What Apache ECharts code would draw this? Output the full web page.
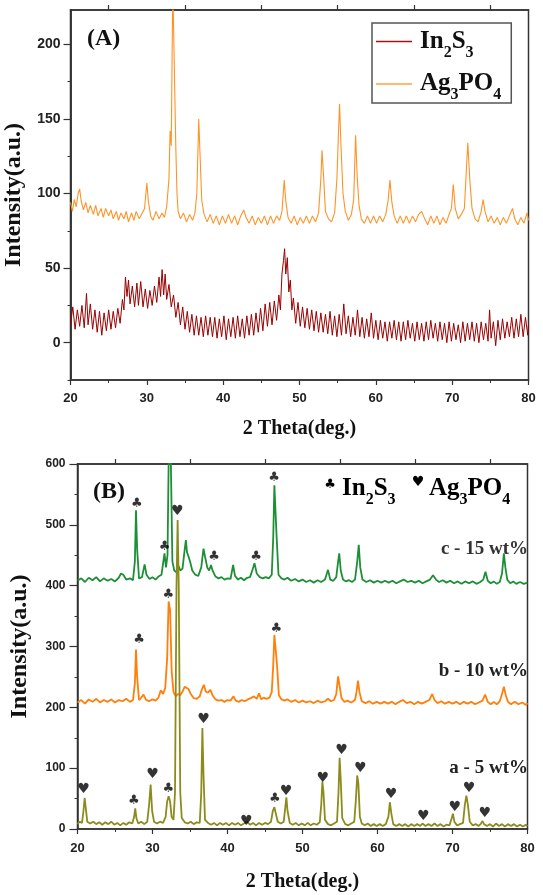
<!DOCTYPE html>
<html><head><meta charset="utf-8">
<script src="https://cdn.jsdelivr.net/npm/echarts@6/dist/echarts.min.js"></script>
<style>html,body{margin:0;padding:0;background:#fff}#c{width:543px;height:895px}</style>
</head><body><div id="c"></div><script>
// ---- tick labels / names ----
const xTicks = [20, 30, 40, 50, 60, 70, 80];
const topTicks = [25, 35, 45, 55, 65, 75];
const yTicksA = [0, 50, 100, 150, 200];
const yMinorA = [-25, 25, 75, 125, 175];
const yTicksB = [0, 100, 200, 300, 400, 500, 600];
const seriesNamesA = ['In2S3', 'Ag3PO4'];
const sampleLabelsB = ['c - 15 wt%', 'b - 10 wt%', 'a - 5 wt%'];

// ---- panel A data: flat [2theta, intensity, ...] ----
const in2s3 = [20.0,12,20.3,24,20.6,9,20.9,22,21.2,11,21.5,25,21.8,10,22.1,33,22.3,12,22.6,26,22.9,9,23.2,22,23.5,7,23.8,21,24.1,5,24.4,20,24.7,8,25.0,22,25.3,9,25.6,21,25.9,10,26.2,23,26.5,13,26.8,29,27.0,22,27.2,44,27.4,31,27.6,42,27.8,26,28.1,38,28.4,24,28.7,40,28.9,25,29.2,41,29.5,24,29.8,36,30.1,23,30.4,35,30.7,25,31.0,38,31.3,27,31.6,44,31.8,31,32.0,49,32.2,32,32.4,46,32.6,29,32.9,39,33.2,24,33.5,32,33.8,17,34.1,27,34.4,12,34.7,24,35.0,9,35.3,21,35.6,7,35.9,19,36.2,5,36.5,18,36.8,5,37.1,17,37.4,4,37.7,18,38.0,5,38.3,17,38.6,4,38.9,17,39.2,3,39.5,16,39.8,4,40.1,18,40.4,2,40.7,16,41.0,4,41.3,17,41.6,3,41.9,18,42.2,4,42.5,16,42.8,3,43.1,18,43.4,5,43.7,19,44.0,5,44.3,20,44.6,7,44.9,23,45.2,8,45.5,26,45.8,11,46.1,27,46.4,12,46.7,28,47.0,15,47.3,32,47.5,22,47.7,46,47.9,55,48.05,63,48.2,46,48.4,57,48.6,34,48.8,42,49.0,22,49.2,30,49.5,13,49.8,27,50.1,11,50.4,24,50.7,10,51.0,23,51.3,9,51.6,22,51.9,8,52.2,21,52.5,7,52.8,20,53.1,7,53.4,19,53.7,6,54.0,21,54.3,5,54.6,18,54.9,4,55.2,19,55.5,5,55.8,26,56.1,6,56.4,18,56.7,4,57.0,17,57.3,5,57.6,22,57.9,4,58.2,17,58.5,3,58.8,16,59.1,4,59.4,20,59.7,3,60.0,15,60.3,2,60.6,15,60.9,3,61.2,14,61.5,1,61.8,14,62.1,3,62.4,15,62.7,2,63.0,14,63.3,1,63.6,14,63.9,2,64.2,15,64.5,3,64.8,13,65.1,1,65.4,14,65.7,2,66.0,13,66.3,1,66.6,14,66.9,2,67.2,15,67.5,3,67.8,13,68.1,1,68.4,14,68.7,2,69.0,13,69.3,0,69.6,14,69.9,1,70.2,13,70.5,2,70.8,12,71.1,0,71.4,14,71.7,1,72.0,13,72.3,2,72.6,14,72.9,1,73.2,13,73.5,0,73.8,14,74.1,2,74.4,13,74.7,1,74.9,22,75.1,3,75.4,14,75.7,-2,76.0,15,76.3,2,76.6,16,76.9,3,77.2,14,77.5,4,77.8,17,78.1,3,78.4,16,78.7,4,79.0,19,79.3,4,79.6,17,79.9,5,80.0,12];
const ag3po4 = [20.0,94,20.25,88,20.5,96,20.75,91,21.0,100,21.2,103,21.4,95,21.7,89,22.0,94,22.3,87,22.6,92,23.0,86,23.3,92,23.6,85,24.0,90,24.3,84,24.6,90,25.0,85,25.3,89,25.6,83,26.0,88,26.3,82,26.6,87,27.0,83,27.3,88,27.6,81,28.0,87,28.3,82,28.6,88,29.0,83,29.4,87,29.7,90,30.0,107,30.2,95,30.5,85,30.8,82,31.2,88,31.6,83,32.0,87,32.3,84,32.6,91,32.9,110,33.05,142,33.2,132,33.4,240,33.6,240,33.8,130,33.95,100,34.1,88,34.4,83,34.8,87,35.2,81,35.6,86,36.0,82,36.3,87,36.55,100,36.8,150,37.0,122,37.2,95,37.5,86,37.9,81,38.3,86,38.7,80,39.1,85,39.5,79,39.9,85,40.3,80,40.7,86,41.1,80,41.5,85,41.9,79,42.3,85,42.7,89,43.0,84,43.4,80,43.8,85,44.2,79,44.6,84,45.0,80,45.4,85,45.8,79,46.2,85,46.6,80,47.0,85,47.4,82,47.7,88,48.0,109,48.2,95,48.5,84,48.9,80,49.3,85,49.7,79,50.1,84,50.5,80,50.9,85,51.3,80,51.7,85,52.1,81,52.5,87,52.8,110,52.95,129,53.15,112,53.4,88,53.8,83,54.2,81,54.6,87,54.9,110,55.1,140,55.25,160,55.45,130,55.7,100,56.0,88,56.4,82,56.8,86,57.1,96,57.35,139,57.55,112,57.8,92,58.1,83,58.5,80,58.9,85,59.3,80,59.7,85,60.1,80,60.5,85,60.9,81,61.3,86,61.6,95,61.85,109,62.1,94,62.4,85,62.8,80,63.2,85,63.6,80,64.0,85,64.4,80,64.8,85,65.2,81,65.6,86,66.0,88,66.4,83,66.8,79,67.2,85,67.6,80,68.0,85,68.4,79,68.8,84,69.2,80,69.6,86,69.9,90,70.15,106,70.4,90,70.8,83,71.2,86,71.6,90,71.85,115,72.05,134,72.3,110,72.6,90,73.0,83,73.4,81,73.8,88,74.05,96,74.3,88,74.7,81,75.1,85,75.5,80,75.9,84,76.3,79,76.7,84,77.1,80,77.5,85,77.9,90,78.2,83,78.6,79,79.0,84,79.4,80,79.8,87,80.0,82];

// ---- panel B data ----
const wt15 = [20.0,408,20.5,412,21.0,406,21.5,413,22.0,409,22.5,414,23.0,407,23.5,412,24.0,408,24.5,411,25.0,407,25.5,413,25.8,420,26.1,418,26.5,410,27.0,412,27.4,409,27.65,440,27.8,524,27.95,460,28.2,412,28.6,414,28.95,435,29.2,418,29.6,411,30.0,414,30.4,410,30.8,415,31.2,418,31.45,440,31.6,453,31.8,430,32.0,450,32.15,600,32.3,640,32.45,600,32.65,440,32.9,425,33.2,422,33.5,432,33.7,425,34.0,428,34.3,460,34.45,475,34.6,455,34.8,448,35.0,440,35.3,425,35.7,418,36.1,416,36.5,430,36.8,461,37.0,448,37.3,430,37.55,425,37.8,434,38.0,425,38.4,415,38.8,412,39.2,414,39.6,410,40.0,412,40.4,411,40.75,434,41.0,416,41.4,410,41.8,413,42.2,409,42.6,413,43.0,414,43.3,425,43.6,437,43.9,420,44.3,414,44.7,412,45.1,414,45.5,412,45.9,418,46.1,480,46.25,565,46.4,565,46.55,480,46.8,418,47.2,412,47.6,410,48.0,413,48.5,408,49.0,411,49.5,407,50.0,410,50.5,406,51.0,409,51.5,405,52.0,409,52.5,406,53.0,410,53.4,426,53.7,410,54.1,408,54.5,414,54.75,440,54.9,453,55.1,425,55.4,410,55.8,407,56.2,409,56.6,406,57.0,410,57.3,440,57.5,467,57.7,430,58.0,410,58.5,406,59.0,409,59.5,405,60.0,408,60.5,405,61.0,408,61.5,405,62.0,408,62.5,404,63.0,407,63.5,410,64.0,406,64.5,408,65.0,405,65.5,408,66.0,404,66.5,407,67.0,410,67.4,417,67.8,410,68.2,406,68.7,409,69.2,405,69.7,408,70.2,404,70.7,407,71.2,403,71.7,407,72.2,404,72.7,407,73.2,403,73.7,406,74.1,410,74.4,423,74.7,408,75.1,404,75.5,407,75.9,403,76.3,406,76.6,420,76.85,453,77.05,430,77.3,410,77.7,404,78.1,407,78.5,403,79.0,406,79.5,403,80.0,405];
const wt10 = [20.0,208,20.5,212,21.0,206,21.5,213,22.0,209,22.5,214,23.0,208,23.5,212,24.0,209,24.5,213,25.0,208,25.5,212,26.0,210,26.5,214,27.0,209,27.4,212,27.65,240,27.8,295,27.95,250,28.2,212,28.5,216,28.8,221,29.1,213,29.5,210,30.0,213,30.4,211,30.8,216,31.1,228,31.4,222,31.7,232,31.95,280,32.15,374,32.35,360,32.55,260,32.8,225,33.1,218,33.4,222,33.7,220,34.0,226,34.3,234,34.55,237,34.8,230,35.1,222,35.5,215,35.9,214,36.3,218,36.6,230,36.85,237,37.1,226,37.4,224,37.7,229,38.0,220,38.4,213,38.8,211,39.2,212,39.6,209,40.0,212,40.4,211,40.8,218,41.1,211,41.5,209,41.9,212,42.3,210,42.7,213,43.1,215,43.5,218,43.9,214,44.2,223,44.5,213,44.8,216,45.2,214,45.6,216,45.9,225,46.1,270,46.25,319,46.45,316,46.6,270,46.85,220,47.2,213,47.6,211,48.0,213,48.5,209,49.0,212,49.5,208,50.0,211,50.5,208,51.0,210,51.5,207,52.0,211,52.5,208,53.0,210,53.4,214,53.8,210,54.2,212,54.5,222,54.75,251,54.95,235,55.2,215,55.6,209,56.0,211,56.5,208,57.0,212,57.2,225,57.4,244,57.6,225,57.9,210,58.4,207,58.9,210,59.4,206,59.9,209,60.4,206,60.9,209,61.4,206,61.9,209,62.4,205,62.9,209,63.4,212,63.9,207,64.4,209,64.9,205,65.4,209,65.9,206,66.4,209,66.9,212,67.3,222,67.6,212,68.0,207,68.5,210,69.0,206,69.5,209,70.0,206,70.5,209,71.0,205,71.5,209,72.0,206,72.5,209,73.0,205,73.5,208,74.0,211,74.35,221,74.7,209,75.1,205,75.5,209,75.9,205,76.3,210,76.6,222,76.85,234,77.1,220,77.4,209,77.8,205,78.3,209,78.8,205,79.3,208,79.8,204,80.0,207];
const wt5 = [20.0,8,20.3,12,20.6,10,20.8,30,20.95,51,21.1,35,21.3,12,21.7,9,22.1,12,22.5,8,22.9,11,23.3,7,23.7,11,24.1,8,24.5,12,24.9,7,25.3,10,25.7,6,26.1,10,26.5,7,26.9,11,27.3,9,27.55,20,27.7,34,27.85,18,28.1,9,28.5,12,28.9,8,29.3,12,29.55,40,29.75,73,29.95,30,30.2,12,30.6,9,31.0,12,31.4,10,31.75,20,31.95,45,32.15,54,32.35,45,32.55,20,32.8,15,33.0,60,33.2,400,33.35,508,33.5,400,33.7,60,33.9,18,34.3,11,34.7,9,35.1,12,35.5,8,35.9,11,36.3,10,36.5,60,36.65,166,36.8,90,37.0,15,37.4,10,37.8,7,38.2,10,38.6,6,39.0,10,39.4,7,39.8,10,40.2,6,40.6,10,41.0,7,41.4,10,41.8,6,42.2,9,42.6,12,43.0,7,43.4,10,43.8,6,44.2,10,44.6,7,45.0,10,45.4,8,45.8,12,46.05,30,46.25,36,46.45,25,46.7,12,47.1,9,47.5,12,47.7,35,47.85,52,48.0,30,48.3,10,48.7,7,49.1,10,49.5,6,49.9,9,50.3,6,50.7,10,51.1,6,51.5,9,51.9,7,52.3,11,52.5,40,52.65,78,52.8,60,53.0,15,53.4,8,53.8,6,54.2,9,54.6,12,54.8,60,54.95,117,55.1,80,55.3,18,55.7,8,56.1,6,56.5,9,56.9,12,57.1,45,57.3,88,57.45,75,57.65,20,57.9,9,58.3,6,58.7,9,59.1,5,59.5,8,59.9,5,60.3,8,60.7,5,61.1,8,61.45,20,61.65,44,61.85,25,62.1,8,62.5,5,62.9,8,63.3,5,63.7,8,64.1,4,64.5,8,64.9,5,65.3,8,65.7,5,66.0,9,66.4,5,66.8,8,67.2,5,67.6,9,68.0,5,68.4,8,68.8,4,69.2,7,69.6,6,69.9,18,70.05,25,70.25,12,70.6,6,71.0,8,71.4,10,71.65,40,71.85,55,72.05,40,72.3,12,72.7,6,73.1,8,73.5,5,73.8,9,74.0,13,74.2,8,74.6,5,75.0,8,75.4,4,75.8,9,76.2,5,76.6,8,77.0,4,77.4,8,77.8,5,78.2,8,78.6,4,79.0,7,79.4,4,79.8,7,80.0,5];

// phase markers (position of the glyph): ♣ In2S3, ♥ Ag3PO4
const clubMarks = [27.9,535,31.6,465,38.2,448,43.8,447,46.2,577,28.2,312,32.1,385,46.5,330,27.5,46,32.1,66,46.3,50];
const heartMarks = [20.8,65,30.0,89,33.3,522,36.8,180,42.5,13,47.8,62,52.7,84,55.2,130,57.7,100,61.8,57,66.1,21,70.3,35,72.2,67,74.3,26];

function pairs(a){ const r = []; for (let i = 0; i < a.length; i += 2) r.push([a[i], a[i+1]]); return r; }

const AX = '#333';
const SERIF = '"Liberation Serif", "Times New Roman", serif';
const SANS = '"Liberation Sans", Arial, sans-serif';
const tickLbl = {fontFamily: SANS, fontWeight: 'bold', fontSize: 13, color: '#222'};
const nameStyle = {fontFamily: SERIF, fontWeight: 'bold', fontSize: 20, color: '#111'};
const yNameStyle = {fontFamily: SERIF, fontWeight: 'bold', fontSize: 24, color: '#111'};
const richSub = {
  m: {fontFamily: SERIF, fontWeight: 'bold', fontSize: 25, color: '#111', lineHeight: 38},
  s: {fontFamily: SERIF, fontWeight: 'bold', fontSize: 16, color: '#111', lineHeight: 16, verticalAlign: 'bottom'}
};
function subFormula(n){ return n.replace(/([A-Za-z]+)(\d)/g, '{m|$1}{s|$2}'); }
const lineSt = {color: AX, width: 1.2};

function bottomX(grid, gap, margin){
  return {gridIndex: grid, type: 'value', min: 20, max: 80, interval: 10,
    axisLine: {show: true, onZero: false, lineStyle: {color: AX, width: 1.5}},
    axisTick: {show: true, length: 5, lineStyle: lineSt},
    minorTick: {show: true, splitNumber: 2, length: 3, lineStyle: {color: AX, width: 1}},
    splitLine: {show: false},
    axisLabel: {...tickLbl, margin: margin, customValues: xTicks},
    name: '2 Theta(deg.)', nameLocation: 'middle', nameGap: gap, nameTextStyle: nameStyle};
}
function topX(grid){
  return {gridIndex: grid, type: 'value', position: 'top', min: 20, max: 80, interval: 10,
    axisLine: {show: true, onZero: false, lineStyle: {color: AX, width: 1.5}},
    axisTick: {show: true, length: 5, customValues: topTicks, lineStyle: lineSt},
    axisLabel: {show: false}, splitLine: {show: false}};
}

const option = {
  animation: false,
  backgroundColor: '#fff',
  grid: [
    {left: 70.5, top: 10, width: 458, height: 370, show: true, borderColor: AX, borderWidth: 1.5,
     containLabel: false, outerBoundsMode: 'none'},
    {left: 77.5, top: 464, width: 450, height: 365, show: true, borderColor: AX, borderWidth: 1.5,
     containLabel: false, outerBoundsMode: 'none'}
  ],
  xAxis: [bottomX(0, 39, 12), topX(0), bottomX(1, 43, 13), topX(1)],
  yAxis: [
    {gridIndex: 0, type: 'value', min: -25, max: 223, interval: 25,
     axisLine: {show: true, onZero: false, lineStyle: {color: AX, width: 1.5}},
     axisTick: {show: true, length: 7, customValues: yTicksA, lineStyle: lineSt},
     splitLine: {show: false},
     axisLabel: {...tickLbl, fontSize: 14, margin: 10, customValues: yTicksA},
     name: 'Intensity(a.u.)', nameLocation: 'middle', nameGap: 41, nameTextStyle: yNameStyle},
    {gridIndex: 1, type: 'value', min: 0, max: 600, interval: 100,
     axisLine: {show: true, onZero: false, lineStyle: {color: AX, width: 1.5}},
     axisTick: {show: true, length: 8, lineStyle: lineSt},
     minorTick: {show: true, splitNumber: 2, length: 3, lineStyle: {color: AX, width: 1}},
     splitLine: {show: false},
     axisLabel: {...tickLbl, fontSize: 12, margin: 12, customValues: yTicksB},
     name: 'Intensity(a.u.)', nameLocation: 'middle', nameGap: 46, nameTextStyle: yNameStyle},
    {gridIndex: 0, type: 'value', position: 'left', min: -25, max: 223, interval: 25,
     axisLine: {show: true, onZero: false, lineStyle: {color: AX, width: 1.5}},
     axisTick: {show: true, length: 3, customValues: yMinorA, lineStyle: {color: AX, width: 1}},
     axisLabel: {show: false}, splitLine: {show: false}}
  ],
  legend: {
    data: seriesNamesA.map(n => ({name: n, icon: 'rect'})), orient: 'vertical', left: 372, top: 23,
    padding: [6, 10, 0, 4], itemGap: 11, itemWidth: 36, itemHeight: 1.5,
    backgroundColor: '#fff', borderColor: '#555', borderWidth: 1.5, borderRadius: 0,
    formatter: subFormula,
    textStyle: {padding: [0, 0, 0, 3], rich: richSub}
  },
  series: [
    {name: seriesNamesA[0], type: 'line', xAxisIndex: 0, yAxisIndex: 0, data: pairs(in2s3),
     symbol: 'none', lineStyle: {color: '#990000', width: 1}, itemStyle: {color: '#a31515'}},
    {name: seriesNamesA[1], type: 'line', xAxisIndex: 0, yAxisIndex: 0, data: pairs(ag3po4),
     symbol: 'none', lineStyle: {color: '#ff9326', width: 1.1}, itemStyle: {color: '#ffa040'}},
    {name: sampleLabelsB[0], type: 'line', xAxisIndex: 2, yAxisIndex: 1, data: pairs(wt15),
     symbol: 'none', lineStyle: {color: '#1d8f36', width: 1.8}},
    {name: sampleLabelsB[1], type: 'line', xAxisIndex: 2, yAxisIndex: 1, data: pairs(wt10),
     symbol: 'none', lineStyle: {color: '#ff7f0a', width: 1.8}},
    {name: sampleLabelsB[2], type: 'line', xAxisIndex: 2, yAxisIndex: 1, data: pairs(wt5),
     symbol: 'none', lineStyle: {color: '#8c8c1e', width: 1.8}},
    {name: 'In2S3 marks', type: 'scatter', xAxisIndex: 2, yAxisIndex: 1, data: pairs(clubMarks),
     symbolSize: 1, itemStyle: {color: 'rgba(0,0,0,0)'}, silent: true, z: 5,
     label: {show: true, position: 'inside', formatter: '\u2663', fontFamily: '"DejaVu Sans"', fontSize: 13, color: '#000'}},
    {name: 'Ag3PO4 marks', type: 'scatter', xAxisIndex: 2, yAxisIndex: 1, data: pairs(heartMarks),
     symbolSize: 1, itemStyle: {color: 'rgba(0,0,0,0)'}, silent: true, z: 5,
     label: {show: true, position: 'inside', formatter: '\u2665', fontFamily: '"DejaVu Sans"', fontSize: 14, color: '#000'}}
  ],
  graphic: [
    {type: 'text', left: 87, top: 27, style: {text: '(A)', font: 'bold 24px ' + SERIF, fill: '#111'}},
    {type: 'text', left: 93, top: 480, style: {text: '(B)', font: 'bold 24px ' + SERIF, fill: '#111'}},
    {type: 'text', x: 330, y: 485, style: {text: '\u2663', font: '13px "DejaVu Sans"', fill: '#000', align: 'center', verticalAlign: 'middle'}},
    {type: 'text', x: 342, y: 489, style: {text: subFormula('In2S3'), rich: richSub, align: 'left', verticalAlign: 'middle'}},
    {type: 'text', x: 418, y: 482, style: {text: '\u2665', font: '14px "DejaVu Sans"', fill: '#000', align: 'center', verticalAlign: 'middle'}},
    {type: 'text', x: 429, y: 489, style: {text: subFormula('Ag3PO4'), rich: richSub, align: 'left', verticalAlign: 'middle'}},
    {type: 'text', x: 528, y: 549, style: {text: sampleLabelsB[0], font: 'bold 19px ' + SERIF, fill: '#333', align: 'right', verticalAlign: 'middle'}},
    {type: 'text', x: 528, y: 671, style: {text: sampleLabelsB[1], font: 'bold 19px ' + SERIF, fill: '#222', align: 'right', verticalAlign: 'middle'}},
    {type: 'text', x: 528, y: 768, style: {text: sampleLabelsB[2], font: 'bold 19px ' + SERIF, fill: '#222', align: 'right', verticalAlign: 'middle'}}
  ]
};
const chart = echarts.init(document.getElementById('c'), null, {renderer: 'canvas'});
chart.setOption(option);
</script></body></html>
